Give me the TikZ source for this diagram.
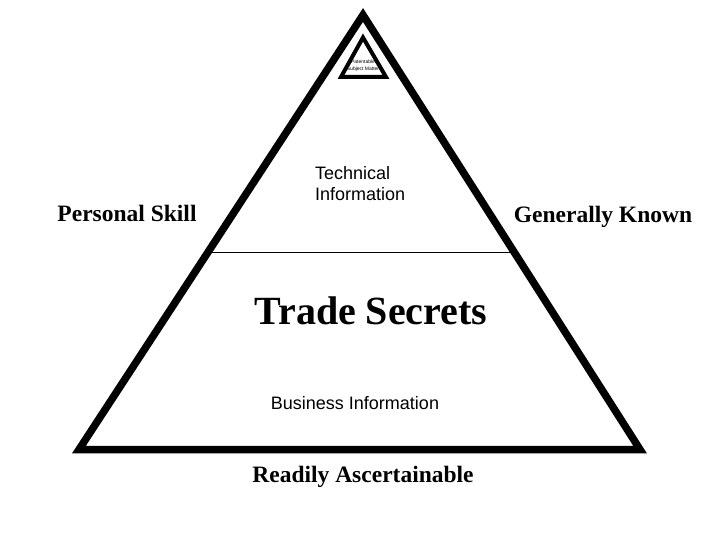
\documentclass[tikz,border=0pt]{standalone}
\usepackage{fontspec}
\setmainfont{Liberation Serif}
\setsansfont{Liberation Sans}
\usetikzlibrary{positioning}

\begin{document}
\begin{tikzpicture}[x=1pt,y=-1pt]

    \useasboundingbox (0,0) rectangle (720,540);

    % outer pyramid
    \coordinate (top) at (363,15);
    \coordinate (bl) at (79,449.5);
    \coordinate (br) at (640,449.5);
    \draw[line width=7.5pt, line join=miter] (top)--(bl)--(br)--cycle;

    % small triangle at the tip
    \coordinate (ptop) at (363,37.5);
    \coordinate (pbl) at (341,77);
    \coordinate (pbr) at (386,77);
    \draw[line width=4pt, line join=miter] (ptop)--(pbl)--(pbr)--cycle;

    \node[font=\sffamily\fontsize{5}{7}\selectfont,
      align=center, inner sep=0pt] (pat) at (363,66)
      {Patentable\\Subject Matter};

    % dividing line
    \coordinate (ml) at (210,252.5);
    \coordinate (mr) at (516,252.5);
    \draw[line width=1pt] (ml)--(mr);

    \node[font=\bfseries\fontsize{23.5}{28}\selectfont,
      inner sep=0pt] (ps) at (127,213) {Personal Skill};

    \node[font=\bfseries\fontsize{23.5}{28}\selectfont,
      inner sep=0pt] (gk) at (603,217) {Generally Known};

    \node[font=\sffamily\fontsize{18}{21}\selectfont,
      align=left, inner sep=0pt, anchor=west] (ti) at (315,184)
      {Technical\\Information};

    \node[font=\bfseries\fontsize{40}{44}\selectfont,
      inner sep=0pt] (ts) at (371,311) {Trade Secrets};

    \node[font=\sffamily\fontsize{18}{21}\selectfont,
      inner sep=0pt] (bi) at (355,403) {Business Information};

    \node[font=\bfseries\fontsize{23.5}{28}\selectfont,
      inner sep=0pt] (ra) at (363,477) {Readily Ascertainable};

    \end{tikzpicture}
\end{document}
